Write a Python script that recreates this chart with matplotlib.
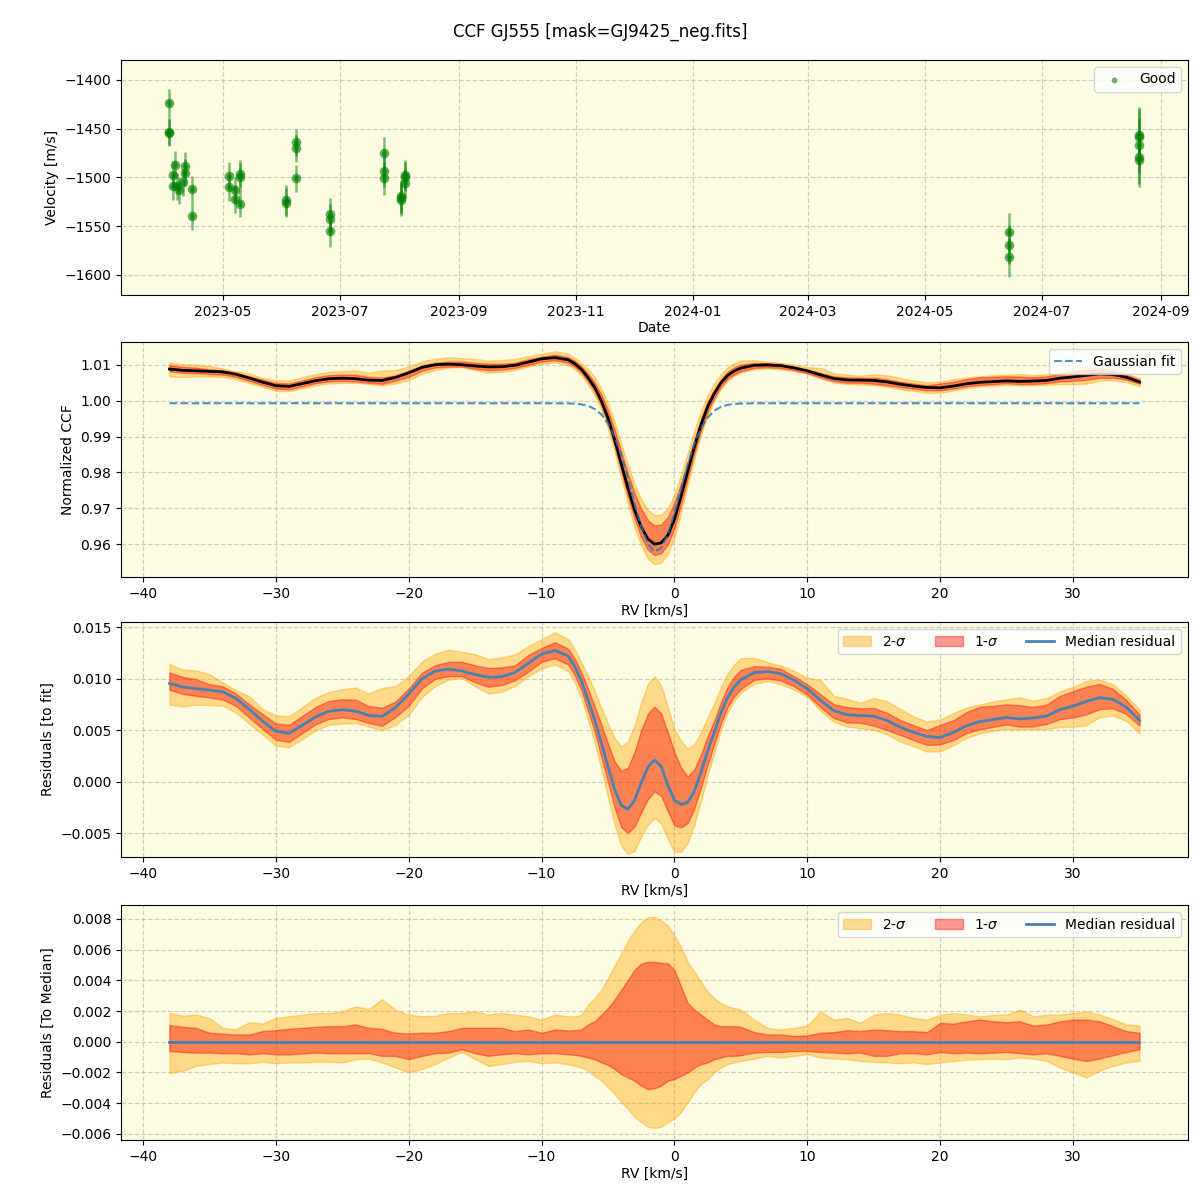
import numpy as np
import pandas as pd
import matplotlib
matplotlib.use("Agg")
import matplotlib.pyplot as plt
import matplotlib.dates as mdates

# ---------------- data: RV time series ----------------
obs_dates = ["2023-04-03", "2023-04-03", "2023-04-03",
             "2023-04-06", "2023-04-05", "2023-04-05", "2023-04-07", "2023-04-08",
             "2023-04-10", "2023-04-11", "2023-04-11", "2023-04-15", "2023-04-15",
             "2023-05-04", "2023-05-04", "2023-05-07", "2023-05-07",
             "2023-05-10", "2023-05-10", "2023-05-10",
             "2023-06-03", "2023-06-03",
             "2023-06-08", "2023-06-08", "2023-06-08",
             "2023-06-26", "2023-06-26", "2023-06-26",
             "2023-07-24", "2023-07-24", "2023-07-24",
             "2023-08-02", "2023-08-02", "2023-08-02",
             "2023-08-04", "2023-08-04", "2023-08-04",
             "2024-06-14", "2024-06-14", "2024-06-14",
             "2024-08-21", "2024-08-21", "2024-08-21", "2024-08-21", "2024-08-21"]
obs_vel = [-1424, -1453, -1454,
           -1487, -1497, -1509, -1509, -1513,
           -1505, -1488, -1495, -1512, -1540,
           -1498, -1510, -1513, -1522,
           -1496, -1499, -1527,
           -1523, -1526,
           -1464, -1470, -1501,
           -1537, -1543, -1555,
           -1475, -1493, -1501,
           -1519, -1521, -1523,
           -1497, -1499, -1506,
           -1556, -1569, -1582,
           -1456, -1458, -1467, -1479, -1482]
obs_err = [15, 14, 14,
           14, 14, 14, 14, 14,
           14, 14, 14, 14, 14,
           14, 14, 14, 14,
           14, 14, 14,
           15, 15,
           14, 14, 14,
           16, 16, 16,
           17, 17, 17,
           16, 16, 16,
           15, 15, 15,
           20, 20, 20,
           28, 28, 28, 28, 28]

# ---------------- data: CCF ----------------
rv = [-38, -37, -36, -35, -34, -33, -32, -31, -30, -29, -28, -27, -26, -25, -24,
      -23, -22, -21, -20, -19, -18, -17, -16, -15, -14, -13, -12, -11, -10, -9, -8,
      -7.5, -7, -6.5, -6, -5.5, -5, -4.5, -4, -3.5, -3, -2.5, -2, -1.5, -1, -0.5,
      0, 0.5, 1, 1.5, 2, 2.5, 3, 3.5, 4, 4.5, 5,
      6, 7, 8, 9, 10, 11, 12, 13, 14, 15, 16, 17, 18, 19, 20, 21, 22, 23, 24, 25,
      26, 27, 28, 29, 30, 31, 32, 33, 34, 35]

# median residual to the Gaussian fit (units of 1e-3)
resid_median = [9.54, 9.2, 9.05, 8.9, 8.75, 8.1, 7.05, 5.9, 4.9, 4.7, 5.5, 6.3, 6.85, 7.0, 6.85,
                6.45, 6.35, 7.2, 8.5, 10.0, 10.75, 10.95, 10.75, 10.4, 10.15, 10.2, 10.6, 11.5,
                12.4, 12.75, 12.2,
                11.2, 9.8, 7.9, 6.0, 3.8, 1.5, -0.75, -2.3, -2.65, -1.8, -0.1, 1.4, 2.1, 1.5, -0.3,
                -1.8, -2.2, -2.0, -0.9, 0.9, 3.0, 4.8, 6.7, 8.2, 9.2, 9.9,
                10.6, 10.7, 10.5, 9.87, 9.05, 7.9, 6.9, 6.5, 6.44, 6.37, 5.95, 5.3, 4.8, 4.4,
                4.3, 4.8, 5.45, 5.85, 6.05, 6.24, 6.1, 6.2, 6.37, 7.0, 7.35, 7.8, 8.17, 8.0,
                7.25, 5.95]

# quantile offsets from the median (units of 1e-3)
hi2 = [1.87, 1.70, 1.76, 1.55, 0.90, 0.80, 1.27, 1.18, 1.55, 1.66, 1.76, 1.87, 1.87, 1.98, 2.30,
       2.13, 2.77, 2.09, 1.76, 1.66, 1.70, 1.87, 1.87, 1.98, 1.76, 1.87, 1.76, 1.66, 1.44, 1.76, 1.66,
       1.66, 1.76, 2.41, 2.84, 3.38, 4.13, 4.99, 5.74, 6.60, 7.25, 7.78, 8.11, 8.13, 7.89, 7.57,
       6.92, 6.17, 5.20, 4.56, 3.91, 3.27, 2.84, 2.52, 2.30, 2.19, 2.09,
       1.44, 0.90, 0.80, 0.90, 1.05, 1.98, 1.44, 1.55, 1.23, 1.76, 1.87, 1.76, 1.55, 1.44,
       1.76, 1.87, 1.76, 1.66, 1.76, 1.76, 2.09, 1.66, 1.76, 1.76, 1.87, 1.98, 1.76, 1.48,
       1.12, 1.05]
hi1 = [1.08, 0.97, 0.90, 0.58, 0.52, 0.47, 0.47, 0.69, 0.75, 0.84, 0.90, 0.97, 1.01, 1.01, 1.12,
       0.90, 0.84, 0.58, 0.54, 0.58, 0.58, 0.69, 0.90, 0.90, 0.90, 0.90, 0.69, 0.80, 0.58, 0.80, 0.73,
       0.75, 0.80, 1.12, 1.33, 1.76, 2.19, 2.73, 3.38, 4.02, 4.67, 5.10, 5.20, 5.20, 5.14, 5.10,
       4.67, 3.59, 2.52, 2.09, 1.76, 1.44, 1.12, 1.01, 1.01, 1.01, 0.97,
       0.62, 0.47, 0.47, 0.37, 0.41, 0.58, 0.62, 0.75, 0.69, 0.80, 0.75, 0.69, 0.69, 0.62,
       1.23, 1.18, 1.33, 1.44, 1.33, 1.27, 1.33, 1.05, 1.12, 1.33, 1.44, 1.44, 1.33, 1.01,
       0.69, 0.58]
lo1 = [-0.60, -0.67, -0.71, -0.71, -0.75, -0.75, -0.82, -0.75, -0.82, -0.82, -0.77, -0.71, -0.75, -0.75, -0.75,
       -0.75, -0.92, -0.92, -1.14, -0.92, -0.75, -0.71, -0.49, -0.75, -0.92, -0.82, -0.75, -0.82, -0.75, -0.75, -0.82,
       -0.86, -0.92, -1.03, -1.14, -1.35, -1.51, -1.78, -2.11, -2.32, -2.54, -2.86, -3.08, -3.03, -2.86, -2.54,
       -2.43, -2.22, -2.00, -1.68, -1.46, -1.35, -1.14, -1.03, -0.92, -0.92, -0.88,
       -0.71, -0.67, -0.67, -0.60, -0.60, -0.67, -0.71, -0.75, -0.71, -0.92, -0.92, -0.75, -0.75, -0.82,
       -0.67, -0.75, -0.71, -0.75, -0.71, -0.67, -0.75, -0.82, -0.75, -0.92, -1.10, -1.25, -1.10, -0.88,
       -0.67, -0.49]
lo2 = [-2.04, -1.89, -1.57, -1.46, -1.35, -1.40, -1.40, -1.31, -1.40, -1.35, -1.35, -1.31, -1.31, -1.35, -1.14,
       -1.10, -1.35, -1.68, -2.00, -1.78, -1.46, -1.03, -0.67, -1.14, -1.57, -1.46, -1.31, -1.25, -1.40, -1.35, -1.46,
       -1.57, -1.68, -1.89, -2.22, -2.54, -2.97, -3.40, -3.94, -4.37, -4.90, -5.23, -5.55, -5.61, -5.55, -5.23,
       -5.01, -4.58, -3.94, -3.29, -2.75, -2.43, -2.00, -1.68, -1.46, -1.35, -1.25,
       -1.10, -0.92, -1.03, -0.92, -0.82, -1.03, -1.10, -1.14, -1.25, -1.31, -1.35, -1.40, -1.35, -1.46,
       -1.35, -1.25, -1.18, -1.14, -1.10, -1.14, -1.03, -1.10, -1.25, -1.68, -2.00, -2.32, -1.89, -1.57,
       -1.35, -1.25]

# Gaussian fit parameters
gauss_offset = 0.9993
gauss_amp = 0.0415
gauss_center = -1.4
gauss_sigma = 1.8

# ---------------- derived ----------------
rv_a = np.array(rv, dtype=float)
gauss = gauss_offset - gauss_amp * np.exp(-0.5 * ((rv_a - gauss_center) / gauss_sigma) ** 2)
res = np.array(resid_median) * 1e-3
dhi2 = np.array(hi2) * 1e-3
dhi1 = np.array(hi1) * 1e-3
dlo1 = np.array(lo1) * 1e-3
dlo2 = np.array(lo2) * 1e-3
ccf = gauss + res

dates = pd.to_datetime(obs_dates)

# ---------------- figure ----------------
bg = "#fdfce3"
fig = plt.figure(figsize=(12, 12), dpi=100)
left, width, h = 0.1008, 0.8892, 0.1958
ax1 = fig.add_axes([left, 0.7542, width, h])
ax2 = fig.add_axes([left, 0.5192, width, h])
ax3 = fig.add_axes([left, 0.2858, width, h])
ax4 = fig.add_axes([left, 0.0500, width, h])

for ax in (ax1, ax2, ax3, ax4):
    ax.set_facecolor(bg)
    ax.grid(True, linestyle="--", color="#b0b0b0", alpha=0.6, linewidth=0.9)
    ax.set_axisbelow(True)

fig.suptitle("CCF GJ555 [mask=GJ9425_neg.fits]", y=0.981, fontsize=12)

# panel 1
ax1.errorbar(dates, obs_vel, yerr=obs_err, fmt="o", color="green", alpha=0.5,
             markersize=6, elinewidth=1.8, capsize=0)
ax1.scatter(dates, obs_vel, s=10, color="green", alpha=0.5, label="Good", zorder=3)
ax1.xaxis.set_major_locator(mdates.MonthLocator(bymonth=[1, 3, 5, 7, 9, 11]))
ax1.xaxis.set_major_formatter(mdates.DateFormatter("%Y-%m"))
ax1.set_ylim(-1620.5, -1379.5)
ax1.set_xlabel("Date", labelpad=2)
ax1.set_ylabel("Velocity [m/s]")
ax1.legend(loc="upper right")

# panel 2
ax2.fill_between(rv_a, ccf + dlo2, ccf + dhi2, color="orange", alpha=0.4)
ax2.fill_between(rv_a, ccf + dlo1, ccf + dhi1, color="red", alpha=0.4)
ax2.plot(rv_a, ccf, color="black", lw=2)
ax2.plot(rv_a, gauss, "--", color="#1f77b4", alpha=0.8, lw=1.5, label="Gaussian fit")
ax2.set_ylim(0.9508, 1.0164)
ax2.set_xlim(-41.65, 38.65)
ax2.set_xlabel("RV [km/s]", labelpad=2)
ax2.set_ylabel("Normalized CCF")
ax2.legend(loc="upper right")

# panel 3
ax3.fill_between(rv_a, res + dlo2, res + dhi2, color="orange", alpha=0.4, label="2-$\\sigma$")
ax3.fill_between(rv_a, res + dlo1, res + dhi1, color="red", alpha=0.4, label="1-$\\sigma$")
ax3.plot(rv_a, res, color="steelblue", lw=2, label="Median residual")
ax3.set_ylim(-0.0073, 0.0155)
ax3.set_xlim(-41.65, 38.65)
ax3.set_xlabel("RV [km/s]", labelpad=2)
ax3.set_ylabel("Residuals [to fit]")
ax3.legend(loc="upper right", ncol=3)

# panel 4
ax4.fill_between(rv_a, dlo2, dhi2, color="orange", alpha=0.4, label="2-$\\sigma$")
ax4.fill_between(rv_a, dlo1, dhi1, color="red", alpha=0.4, label="1-$\\sigma$")
ax4.plot(rv_a, res - res, color="steelblue", lw=2, label="Median residual")
ax4.set_ylim(-0.0064, 0.0089)
ax4.set_xlim(-41.65, 38.65)
ax4.set_xlabel("RV [km/s]", labelpad=2)
ax4.set_ylabel("Residuals [To Median]")
ax4.legend(loc="upper right", ncol=3)

fig.savefig("out.png", dpi=100)
